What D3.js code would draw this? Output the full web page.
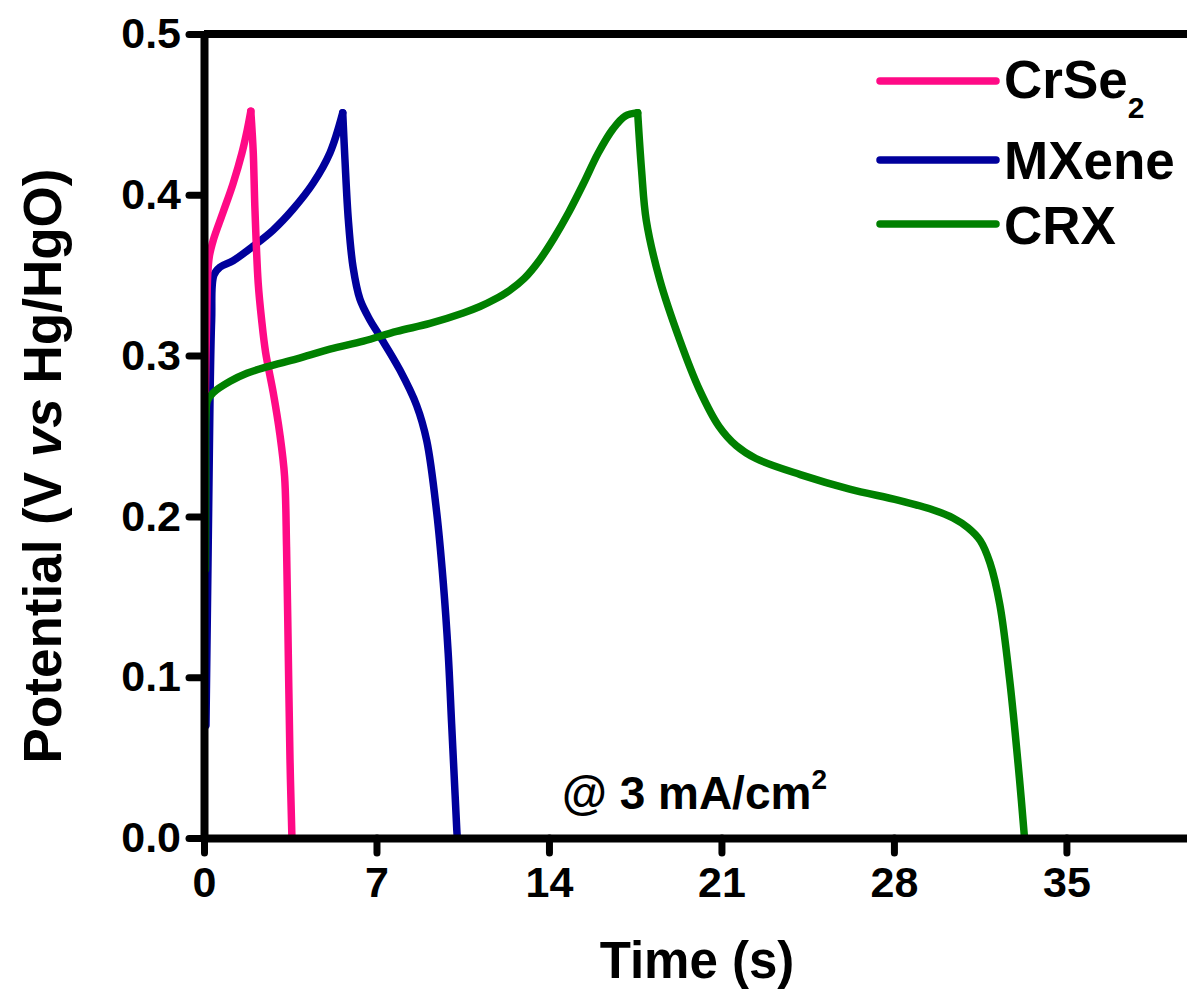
<!DOCTYPE html>
<html>
<head>
<meta charset="utf-8">
<script src="https://cdn.jsdelivr.net/npm/d3@7"></script>
<style>
  html, body { margin: 0; padding: 0; background: #fff; }
  svg { display: block; font-family: "Liberation Sans", Arial, sans-serif; font-weight: bold; }
</style>
</head>
<body>
<svg id="chart" width="1187" height="992"></svg>
<script>
// Galvanostatic charge–discharge curves at 3 mA/cm², time (s) vs potential (V)
const xTicks = [0, 7, 14, 21, 28, 35];
const yTicks = [0.0, 0.1, 0.2, 0.3, 0.4, 0.5];

// CrSe2
const crse2Charge = [
  [0.03, 0.25], [0.08, 0.30], [0.11, 0.322], [0.15, 0.350], [0.22, 0.362],
  [0.38, 0.372], [0.77, 0.389], [1.18, 0.407], [1.54, 0.426], [1.75, 0.440], [1.90, 0.452]
];
const crse2Discharge = [
  [1.90, 0.452], [1.95, 0.440], [2.00, 0.426], [2.07, 0.390], [2.20, 0.345], [2.34, 0.322],
  [2.50, 0.302], [2.81, 0.277], [3.08, 0.251], [3.27, 0.225], [3.35, 0.181],
  [3.42, 0.115], [3.49, 0.049], [3.56, 0.005], [3.57, 0.0]
];

// MXene
const mxeneCharge = [
  [0.08, 0.07], [0.17, 0.181], [0.24, 0.269], [0.31, 0.322], [0.40, 0.350],
  [0.65, 0.355], [1.18, 0.359], [1.99, 0.368], [2.80, 0.378], [3.61, 0.391],
  [4.42, 0.407], [5.11, 0.426], [5.63, 0.451]
];
const mxeneDischarge = [
  [5.63, 0.451], [5.72, 0.422], [5.86, 0.384], [6.05, 0.355], [6.33, 0.335],
  [6.74, 0.322], [7.14, 0.312], [7.95, 0.291], [8.63, 0.269], [9.04, 0.247],
  [9.44, 0.203], [9.71, 0.159], [9.91, 0.115], [10.05, 0.071], [10.19, 0.027],
  [10.26, 0.005], [10.28, 0.0]
];

// CRX
const crxCharge = [
  [0.06, 0.167], [0.07, 0.22], [0.08, 0.262], [0.14, 0.272], [0.38, 0.277],
  [1.06, 0.284], [1.74, 0.289], [2.55, 0.293], [3.77, 0.298], [5.11, 0.304],
  [6.47, 0.309], [7.82, 0.315], [9.17, 0.320], [10.52, 0.3265], [11.2, 0.3305],
  [11.8, 0.335], [12.4, 0.3405], [13.0, 0.348], [13.6, 0.359], [14.2, 0.373],
  [14.8, 0.389], [15.4, 0.407], [16.0, 0.426], [16.6, 0.441], [17.1, 0.449], [17.6, 0.451]
];
const crxDischarge = [
  [17.60, 0.451], [17.76, 0.415], [17.95, 0.384], [18.5, 0.347], [19.3, 0.310],
  [20.1, 0.279], [20.9, 0.256], [21.6, 0.244], [22.4, 0.236], [24.2, 0.226], [26.2, 0.217],
  [28.2, 0.210], [29.6, 0.204], [30.4, 0.199], [31.0, 0.193], [31.5, 0.185], [31.9, 0.171],
  [32.3, 0.145], [32.7, 0.098], [33.1, 0.036], [33.3, 0.0]
];

const seriesNames = ["CrSe", "MXene", "CRX"];
const seriesColors = ["#ff0a86", "#00009c", "#008000"];

const svg = d3.select("#chart");
const x = d3.scaleLinear().domain([0, 40]).range([204, 1189.6]);
const y = d3.scaleLinear().domain([0, 0.5]).range([838, 34]);

const line = d3.line().x(d => x(d[0])).y(d => y(d[1])).curve(d3.curveCatmullRom.alpha(0.5));

// curves (each as a charge branch and a discharge branch meeting at the peak)
const curves = [
  { color: seriesColors[1], parts: [mxeneCharge, mxeneDischarge] },
  { color: seriesColors[0], parts: [crse2Charge, crse2Discharge] },
  { color: seriesColors[2], parts: [crxCharge, crxDischarge] }
];
const gCurves = svg.append("g");
curves.forEach(c => {
  c.parts.forEach(p => {
    gCurves.append("path")
      .attr("d", line(p))
      .attr("fill", "none")
      .attr("stroke", c.color)
      .attr("stroke-width", 7.5)
      .attr("stroke-linejoin", "round")
      .attr("stroke-linecap", "round");
  });
});

// axes
const axisStyle = g => {
  g.select(".domain").attr("stroke", "#000").attr("stroke-width", 8);
  g.selectAll(".tick line").attr("stroke", "#000").attr("stroke-width", 7).attr("stroke-linecap", "round");
  g.selectAll(".tick text").attr("fill", "#000").attr("font-size", 43)
    .attr("font-family", "'Liberation Sans', Arial, sans-serif").attr("font-weight", "bold");
};

svg.append("g")
  .attr("transform", "translate(0,838)")
  .call(d3.axisBottom(x).tickValues(xTicks).tickFormat(d3.format("d")).tickSize(15).tickSizeOuter(0).tickPadding(13))
  .call(axisStyle);

svg.append("g")
  .attr("transform", "translate(204,0)")
  .call(d3.axisLeft(y).tickValues(yTicks).tickFormat(d3.format(".1f")).tickSize(15).tickSizeOuter(0).tickPadding(8))
  .call(axisStyle);

// top frame line
svg.append("line")
  .attr("x1", 204).attr("x2", 1187).attr("y1", y(0.5)).attr("y2", y(0.5))
  .attr("stroke", "#000").attr("stroke-width", 8);

// axis titles
svg.append("text")
  .attr("x", 697).attr("y", 978)
  .attr("text-anchor", "middle").attr("font-size", 51)
  .text("Time (s)");

const yTitle = svg.append("text")
  .attr("transform", "translate(61,466) rotate(-90)")
  .attr("text-anchor", "middle").attr("font-size", 53);
yTitle.append("tspan").text("Potential (V ");
yTitle.append("tspan").attr("font-style", "italic").text("vs");
yTitle.append("tspan").text(" Hg/HgO)");

// current density note
const note = svg.append("text").attr("x", 562).attr("y", 809).attr("font-size", 46);
note.append("tspan").text("@ 3 mA/cm");
note.append("tspan").attr("font-size", 28).attr("dy", -20).text("2");

// legend
const legendRows = [
  { name: seriesNames[0], sub: "2", color: seriesColors[0], ly: 81, ty: 98 },
  { name: seriesNames[1], sub: null, color: seriesColors[1], ly: 160, ty: 179 },
  { name: seriesNames[2], sub: null, color: seriesColors[2], ly: 224, ty: 244 }
];
const legend = svg.append("g");
legendRows.forEach(r => {
  legend.append("line")
    .attr("x1", 880).attr("x2", 996).attr("y1", r.ly).attr("y2", r.ly)
    .attr("stroke", r.color).attr("stroke-width", 7.5).attr("stroke-linecap", "round");
  const t = legend.append("text").attr("x", 1004).attr("y", r.ty).attr("font-size", 53).text(r.name);
  if (r.sub) t.append("tspan").attr("font-size", 30).attr("dy", 20).text(r.sub);
});
</script>
</body>
</html>
